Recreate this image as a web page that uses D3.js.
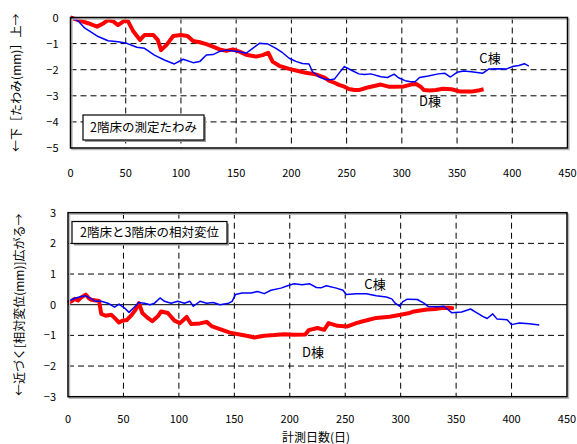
<!DOCTYPE html>
<html>
<head>
<meta charset="utf-8">
<script src="https://cdn.jsdelivr.net/npm/d3@7"></script>
<style>
  body { margin: 0; background: #fff; }
  svg text { font-family: "Noto Sans CJK JP", "DejaVu Sans", sans-serif; fill: #000; }
</style>
</head>
<body>
<div id="chart"></div>
<script>
// top panel: 2F floor deflection (mm)
const topDaysC = [0,7,13,18,25,34,43,51,60,67,76,85,94,102,111,117,123,129,135,141,147,153,159,165,171,179,186,192,198,204,210,216,219,225,230,234,239,243,248,254,261,266,272,281,287,293,297,303,308,312,316,324,333,339,344,350,356,363,373,379,388,395,400,406,411,415];
const topValsC = [0,-0.13,-0.41,-0.54,-0.73,-0.89,-0.93,-0.99,-1.14,-1.18,-1.44,-1.63,-1.78,-1.6,-1.73,-1.69,-1.44,-1.42,-1.3,-1.25,-1.28,-1.31,-1.37,-1.18,-0.99,-1.02,-1.18,-1.35,-1.56,-1.68,-1.76,-1.78,-2.07,-2.27,-2.36,-2.39,-2.36,-2.14,-1.88,-2.01,-2.16,-2.18,-2.16,-2.27,-2.3,-2.17,-2.31,-2.42,-2.46,-2.46,-2.3,-2.24,-2.16,-2.14,-2.28,-2.1,-2.05,-2.08,-2.14,-1.97,-1.96,-1.97,-1.88,-1.84,-1.77,-1.86];
const topDaysD = [0,7,16,24,30,34,39,43,49,52,57,63,67,75,79,82,87,93,100,106,111,117,123,129,135,141,147,153,160,168,174,179,183,189,198,207,213,222,230,234,239,243,248,252,257,261,266,270,281,288,293,302,309,313,317,320,325,331,337,345,353,363,369,374];
const topValsD = [0,-0.1,-0.22,-0.35,-0.22,-0.1,-0.16,-0.29,-0.12,-0.14,-0.54,-0.86,-0.67,-0.67,-0.86,-1.25,-1.05,-0.71,-0.67,-0.71,-0.9,-0.95,-1.02,-1.12,-1.22,-1.28,-1.22,-1.31,-1.44,-1.5,-1.44,-1.35,-1.69,-1.85,-1.97,-2.06,-2.12,-2.18,-2.3,-2.42,-2.5,-2.58,-2.65,-2.74,-2.78,-2.78,-2.72,-2.67,-2.57,-2.65,-2.65,-2.64,-2.56,-2.55,-2.65,-2.78,-2.8,-2.78,-2.73,-2.75,-2.84,-2.84,-2.8,-2.75];

// bottom panel: relative displacement between 2F and 3F (mm)
const botDaysC = [0,3,7,12,16,21,25,30,36,42,46,51,55,59,64,69,74,78,83,87,93,99,105,110,113,119,125,131,137,145,148,151,157,165,171,177,183,192,198,204,211,218,224,228,233,242,248,251,260,269,278,287,292,295,299,302,306,315,321,325,334,339,346,355,363,368,374,378,383,387,396,400,407,416,425];
const botValsC = [0.11,0.16,0.22,0.27,0.29,0.19,0.11,0.11,0.05,-0.08,0.02,-0.11,-0.25,-0.11,0.07,0.05,0,0.05,0.22,0.11,0.05,0.11,0.05,0.11,-0.05,0.11,0.05,0.07,0,0.05,0.11,0.33,0.38,0.38,0.43,0.36,0.47,0.54,0.62,0.68,0.65,0.68,0.56,0.55,0.62,0.54,0.47,0.33,0.36,0.36,0.29,0.25,0.19,0.05,-0.05,0.1,0.18,0.17,0.05,-0.06,-0.07,-0.05,-0.26,-0.24,-0.14,-0.25,-0.38,-0.45,-0.3,-0.47,-0.49,-0.65,-0.6,-0.62,-0.66];
const botDaysD = [0,3,6,9,12,16,19,21,25,28,30,34,39,42,46,49,53,57,61,64,67,72,76,81,84,90,96,101,107,111,119,125,130,137,146,156,162,168,177,186,195,204,214,217,225,231,235,243,252,260,266,278,290,300,307,312,319,324,331,337,343,348];
const botValsD = [0.05,0.11,0.19,0.14,0.24,0.33,0.2,0.16,0.14,0.12,-0.3,-0.36,-0.33,-0.43,-0.58,-0.52,-0.5,-0.35,-0.16,0.05,-0.27,-0.43,-0.54,-0.38,-0.22,-0.27,-0.52,-0.6,-0.4,-0.63,-0.61,-0.56,-0.71,-0.8,-0.91,-0.98,-1.02,-1.07,-1.01,-0.99,-0.96,-0.98,-0.97,-0.83,-0.76,-0.82,-0.6,-0.69,-0.71,-0.6,-0.54,-0.43,-0.39,-0.33,-0.28,-0.22,-0.18,-0.16,-0.14,-0.11,-0.1,-0.12];

const xTicks = [0,50,100,150,200,250,300,350,400,450];
const topYTicks = [0,-1,-2,-3,-4,-5];
const botYTicks = [3,2,1,0,-1,-2,-3];

const svg = d3.select('#chart').append('svg')
  .attr('width', 577)
  .attr('height', 444);

function zip(days, vals) {
  return days.map((d, i) => ({ d: d, v: vals[i] }));
}

function panel(opt) {
  const x = d3.scaleLinear().domain([0, 450]).range([opt.left, opt.right]);
  const y = d3.scaleLinear().domain(opt.yDomain).range([opt.bottom, opt.top]);
  const g = svg.append('g');

  // dashed grid
  g.selectAll('.vgrid')
    .data(xTicks.filter(t => t > 0 && t < 450))
    .enter().append('line')
    .attr('x1', d => x(d)).attr('x2', d => x(d))
    .attr('y1', opt.top).attr('y2', opt.bottom)
    .attr('stroke', '#000').attr('stroke-width', 1)
    .attr('stroke-dasharray', '6,4');

  g.selectAll('.hgrid')
    .data(opt.yTicks.filter(t => t !== opt.yDomain[0] && t !== opt.yDomain[1]))
    .enter().append('line')
    .attr('x1', opt.left).attr('x2', opt.right)
    .attr('y1', d => y(d)).attr('y2', d => y(d))
    .attr('stroke', '#000').attr('stroke-width', 1)
    .attr('stroke-dasharray', d => (d === 0 && opt.zeroSolid) ? null : '6,4');

  const line = d3.line()
    .x(p => x(p.d))
    .y(p => y(p.v));

  // D棟 first (thick red), then C棟 (thin blue) on top
  g.append('path')
    .datum(zip(opt.daysD, opt.valsD))
    .attr('d', line)
    .attr('fill', 'none')
    .attr('stroke', '#ff0000')
    .attr('stroke-width', 4)
    .attr('stroke-linejoin', 'round');

  g.append('path')
    .datum(zip(opt.daysC, opt.valsC))
    .attr('d', line)
    .attr('fill', 'none')
    .attr('stroke', '#0000ff')
    .attr('stroke-width', 1.5)
    .attr('stroke-linejoin', 'round');

  // plot frame with light shadow
  g.append('rect')
    .attr('x', opt.left + 1.5).attr('y', opt.top + 1.5)
    .attr('width', opt.right - opt.left).attr('height', opt.bottom - opt.top)
    .attr('fill', 'none').attr('stroke', '#bbb').attr('stroke-width', 1.5);
  g.append('rect')
    .attr('x', opt.left).attr('y', opt.top)
    .attr('width', opt.right - opt.left).attr('height', opt.bottom - opt.top)
    .attr('fill', 'none').attr('stroke', '#000').attr('stroke-width', 1.5);

  // tick labels
  g.selectAll('.xl')
    .data(xTicks)
    .enter().append('text')
    .attr('x', d => x(d))
    .attr('y', opt.bottom + opt.xLabelGap)
    .attr('text-anchor', 'middle')
    .attr('font-size', 11)
    .text(d => d);

  g.selectAll('.yl')
    .data(opt.yTicks)
    .enter().append('text')
    .attr('x', opt.left - 12)
    .attr('y', d => y(d) + 4)
    .attr('text-anchor', 'end')
    .attr('font-size', 11)
    .text(d => d < 0 ? '\u2212' + Math.abs(d) : d);

  // rotated y title
  g.append('text')
    .attr('transform', `translate(${opt.titleX},${(opt.top + opt.bottom) / 2}) rotate(-90)`)
    .attr('text-anchor', 'middle')
    .attr('font-size', 12)
    .text(opt.yTitle);

  // caption box
  const bx = opt.box;
  g.append('rect')
    .attr('x', bx.x + 2).attr('y', bx.y + 2).attr('width', bx.w).attr('height', bx.h)
    .attr('fill', '#999');
  g.append('rect')
    .attr('x', bx.x).attr('y', bx.y).attr('width', bx.w).attr('height', bx.h)
    .attr('fill', '#fff').attr('stroke', '#000').attr('stroke-width', 1.2);
  g.append('text')
    .attr('x', bx.x + bx.w / 2).attr('y', bx.y + bx.h / 2 + 4.5)
    .attr('text-anchor', 'middle')
    .attr('font-size', 12.5)
    .text(bx.text);

  // series labels
  opt.labels.forEach(l => {
    g.append('text')
      .attr('x', l.x).attr('y', l.y)
      .attr('text-anchor', 'middle')
      .attr('font-size', 13)
      .text(l.text);
  });
}

panel({
  left: 70.5, right: 567.5, top: 17.5, bottom: 148,
  yDomain: [-5, 0], yTicks: topYTicks, zeroSolid: false, xLabelGap: 29,
  daysC: topDaysC, valsC: topValsC, daysD: topDaysD, valsD: topValsD,
  titleX: 21,
  yTitle: '←下［たわみ(mm)］上→',
  box: { x: 83, y: 115, w: 121, h: 25, text: '2階床の測定たわみ' },
  labels: [{ x: 490, y: 63, text: 'C棟' }, { x: 430, y: 106, text: 'D棟' }]
});

panel({
  left: 68, right: 567, top: 212.7, bottom: 396.7,
  yDomain: [-3, 3], yTicks: botYTicks, zeroSolid: true, xLabelGap: 26,
  daysC: botDaysC, valsC: botValsC, daysD: botDaysD, valsD: botValsD,
  titleX: 24,
  yTitle: '←近づく[相対変位(mm)]広がる→',
  box: { x: 72, y: 221.5, w: 155, h: 22, text: '2階床と3階床の相対変位' },
  labels: [{ x: 375, y: 289, text: 'C棟' }, { x: 313, y: 357, text: 'D棟' }]
});

svg.append('text')
  .attr('x', 316).attr('y', 442)
  .attr('text-anchor', 'middle')
  .attr('font-size', 12)
  .text('計測日数(日)');
</script>
</body>
</html>
